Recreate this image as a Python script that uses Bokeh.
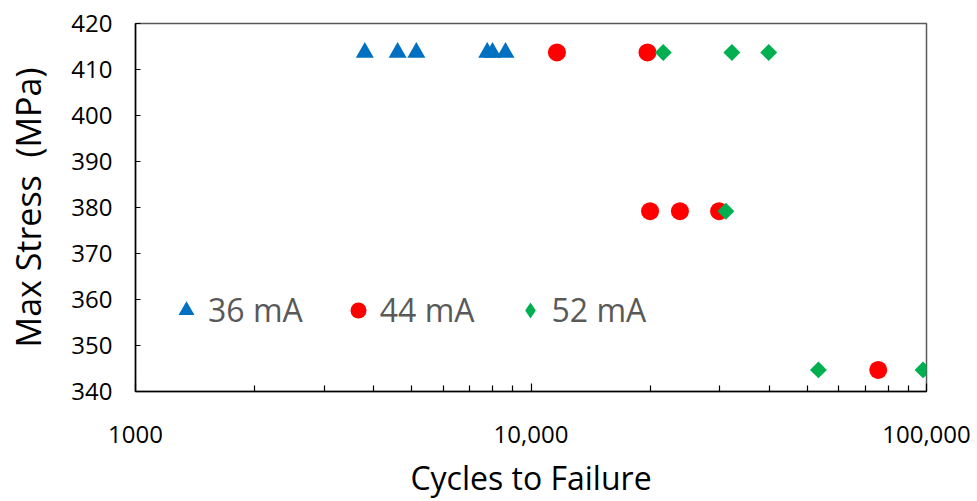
import math
from bokeh.plotting import figure
from bokeh.models import Legend, LegendItem, FixedTicker, Range1d
from bokeh.embed import file_html
from bokeh.resources import INLINE

# ---- data ----
cycles_36 = [3800, 4600, 5130, 7750, 7990, 8620]
stress_36 = [413.7, 413.7, 413.7, 413.7, 413.7, 413.7]

cycles_44 = [11630, 19700, 20000, 23800, 29900, 75500]
stress_44 = [413.7, 413.7, 379.2, 379.2, 379.2, 344.7]

cycles_52 = [21600, 32200, 39900, 31100, 53300, 98000]
stress_52 = [413.7, 413.7, 413.7, 379.2, 344.7, 344.7]

series_labels = ["36 mA", "44 mA", "52 mA"]

x_major = [1000, 10000, 100000]
x_major_labels = ["1000", "10,000", "100,000"]
x_minor = [2000, 3000, 4000, 5000, 6000, 7000, 8000, 9000,
           20000, 30000, 40000, 50000, 60000, 70000, 80000, 90000]
y_ticks = [340, 350, 360, 370, 380, 390, 400, 410, 420]

FONT = "Open Sans"

p = figure(width=977, height=501, x_axis_type="log",
           x_range=Range1d(1000, 100000), y_range=Range1d(340, 420),
           output_backend="svg", toolbar_location=None,
           min_border_left=135, min_border_right=51,
           min_border_top=23, min_border_bottom=110)

p.background_fill_color = "white"
p.border_fill_color = "white"
p.outline_line_color = "#595959"
p.outline_line_width = 1.5
p.xgrid.visible = False
p.ygrid.visible = False

r36 = p.scatter(cycles_36, stress_36, marker="triangle", size=18,
                fill_color="#0070C0", line_color="#0070C0", line_width=0)
r44 = p.scatter(cycles_44, stress_44, marker="circle", size=18,
                fill_color="#FF0000", line_color="#FF0000", line_width=0)
r52 = p.scatter(cycles_52, stress_52, marker="square", size=12, angle=math.pi / 4,
                fill_color="#00B050", line_color="#00B050", line_width=0)
# legend-only glyph for the 52 mA series (legend markers are drawn unrotated)
r52_key = p.scatter(cycles_52, stress_52, marker="diamond", size=12,
                    fill_color="#00B050", line_color="#00B050", line_width=0,
                    visible=False)

# x axis
xa = p.xaxis[0]
xa.ticker = FixedTicker(ticks=x_major, minor_ticks=x_minor)
xa.major_label_overrides = {t: l for t, l in zip(x_major, x_major_labels)}
xa.major_tick_in = 8
xa.major_tick_out = 0
xa.minor_tick_in = 6
xa.minor_tick_out = 0
xa.axis_line_color = "black"
xa.axis_line_width = 1.5
xa.major_tick_line_color = "black"
xa.minor_tick_line_color = "black"
xa.major_tick_line_width = 1.2
xa.minor_tick_line_width = 1.2
xa.major_label_text_font = FONT
xa.major_label_text_font_size = "24px"
xa.major_label_text_color = "black"
xa.major_label_standoff = 34
xa.axis_label = "Cycles to Failure"
xa.axis_label_text_font = FONT
xa.axis_label_text_font_size = "32px"
xa.axis_label_text_font_style = "normal"
xa.axis_label_text_color = "black"
xa.axis_label_standoff = 10

# y axis
ya = p.yaxis[0]
ya.ticker = FixedTicker(ticks=y_ticks, minor_ticks=[])
ya.major_tick_in = 5
ya.major_tick_out = 0
ya.minor_tick_in = 0
ya.minor_tick_out = 0
ya.axis_line_color = "black"
ya.axis_line_width = 1.5
ya.major_tick_line_color = "black"
ya.major_tick_line_width = 1.2
ya.major_label_text_font = FONT
ya.major_label_text_font_size = "24px"
ya.major_label_text_color = "black"
ya.major_label_standoff = 23
ya.axis_label = "Max Stress \u00a0(MPa)"
ya.axis_label_text_font = FONT
ya.axis_label_text_font_size = "34px"
ya.axis_label_text_font_style = "normal"
ya.axis_label_text_color = "black"
ya.axis_label_standoff = 17

legend = Legend(
    items=[LegendItem(label=series_labels[0], renderers=[r36]),
           LegendItem(label=series_labels[1], renderers=[r44]),
           LegendItem(label=series_labels[2], renderers=[r52_key])],
    orientation="horizontal",
    location=(31, 60),
    glyph_width=40, glyph_height=40,
    label_standoff=2, spacing=35,
    padding=0, margin=0,
    border_line_color=None, background_fill_alpha=0,
    label_text_font=FONT, label_text_font_size="32px",
    label_text_color="#595959",
)
p.add_layout(legend, "center")

open("out.html", "w").write(file_html(p, INLINE))
